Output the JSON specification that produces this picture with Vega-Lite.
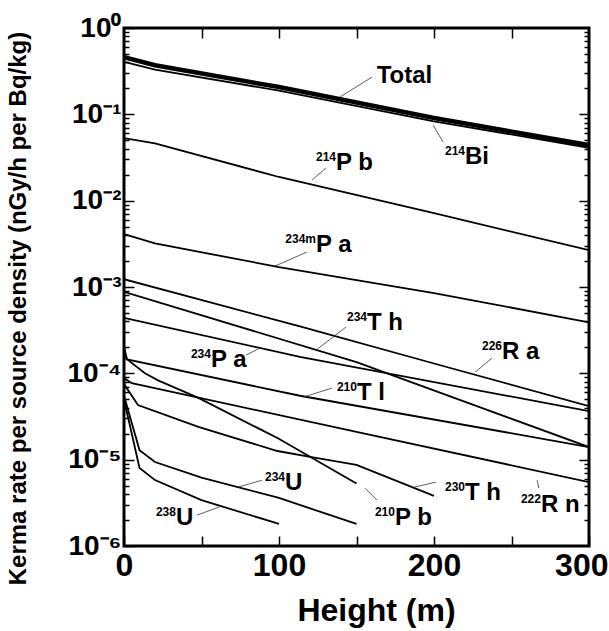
{
  "$schema": "https://vega.github.io/schema/vega-lite/v6.json",
  "autosize": {"type": "none"},
  "width": 465,
  "height": 518,
  "padding": {"left": 124, "top": 28, "right": 20, "bottom": 85},
  "background": "white",
  "config": {
    "view": {"stroke": "black", "strokeWidth": 3},
    "font": "Liberation Sans",
    "axis": {"grid": false, "domain": false, "tickColor": "black", "tickWidth": 1.5, "labelColor": "black", "titleColor": "black", "labelFont": "Liberation Sans", "titleFont": "Liberation Sans", "labelFontWeight": "bold", "titleFontWeight": "bold"}
  },
  "datasets": {
    "curves": [
      {"series": "Total", "h": 0, "v": 0.46}, {"series": "Total", "h": 20, "v": 0.37}, {"series": "Total", "h": 100, "v": 0.207}, {"series": "Total", "h": 200, "v": 0.0906}, {"series": "Total", "h": 300, "v": 0.044},
      {"series": "214Bi", "h": 0, "v": 0.405}, {"series": "214Bi", "h": 20, "v": 0.33}, {"series": "214Bi", "h": 100, "v": 0.188}, {"series": "214Bi", "h": 200, "v": 0.083}, {"series": "214Bi", "h": 300, "v": 0.041},
      {"series": "214Pb", "h": 0, "v": 0.053}, {"series": "214Pb", "h": 20, "v": 0.046}, {"series": "214Pb", "h": 100, "v": 0.0188}, {"series": "214Pb", "h": 200, "v": 0.00715}, {"series": "214Pb", "h": 300, "v": 0.00267},
      {"series": "234mPa", "h": 0, "v": 0.0041}, {"series": "234mPa", "h": 20, "v": 0.0032}, {"series": "234mPa", "h": 100, "v": 0.0017}, {"series": "234mPa", "h": 200, "v": 0.00085}, {"series": "234mPa", "h": 300, "v": 0.00039},
      {"series": "226Ra", "h": 0, "v": 0.00123}, {"series": "226Ra", "h": 113.5, "v": 0.00035}, {"series": "226Ra", "h": 200, "v": 0.00013}, {"series": "226Ra", "h": 300, "v": 0.0000417},
      {"series": "234Th", "h": 0, "v": 0.00088}, {"series": "234Th", "h": 150, "v": 0.000135}, {"series": "234Th", "h": 300, "v": 0.000014},
      {"series": "234Pa", "h": 0, "v": 0.00044}, {"series": "234Pa", "h": 113.5, "v": 0.000155}, {"series": "234Pa", "h": 300, "v": 0.0000365},
      {"series": "210Tl", "h": 0, "v": 0.0002}, {"series": "210Tl", "h": 2, "v": 0.000145}, {"series": "210Tl", "h": 113.5, "v": 0.000055}, {"series": "210Tl", "h": 300, "v": 0.000014},
      {"series": "222Rn", "h": 0, "v": 0.000088}, {"series": "222Rn", "h": 5, "v": 0.000077}, {"series": "222Rn", "h": 150, "v": 0.000021}, {"series": "222Rn", "h": 300, "v": 0.0000055},
      {"series": "210Pb", "h": 0, "v": 0.0002}, {"series": "210Pb", "h": 1, "v": 0.00015}, {"series": "210Pb", "h": 13.5, "v": 0.0001}, {"series": "210Pb", "h": 22, "v": 0.000083}, {"series": "210Pb", "h": 48, "v": 0.000052}, {"series": "210Pb", "h": 99, "v": 0.0000178}, {"series": "210Pb", "h": 150, "v": 0.0000053},
      {"series": "230Th", "h": 0, "v": 0.000075}, {"series": "230Th", "h": 9, "v": 0.000043}, {"series": "230Th", "h": 48, "v": 0.000024}, {"series": "230Th", "h": 99, "v": 0.0000126}, {"series": "230Th", "h": 121, "v": 0.0000107}, {"series": "230Th", "h": 150, "v": 0.0000087}, {"series": "230Th", "h": 200, "v": 0.0000038},
      {"series": "234U", "h": 0, "v": 0.000055}, {"series": "234U", "h": 10, "v": 0.0000129}, {"series": "234U", "h": 20, "v": 0.0000094}, {"series": "234U", "h": 50, "v": 0.0000062}, {"series": "234U", "h": 100, "v": 0.0000036}, {"series": "234U", "h": 150, "v": 0.0000018},
      {"series": "238U", "h": 0, "v": 0.00005}, {"series": "238U", "h": 10, "v": 0.000008}, {"series": "238U", "h": 20, "v": 0.0000058}, {"series": "238U", "h": 50, "v": 0.0000034}, {"series": "238U", "h": 100, "v": 0.0000018}
    ],
    "labels": [
      {"mass": "", "el": "Total", "h": 163, "v": 0.278},
      {"mass": "214", "el": "Bi", "h": 220, "v": 0.032},
      {"mass": "214", "el": "P b", "h": 136.8, "v": 0.0273},
      {"mass": "234m", "el": "P a", "h": 123.9, "v": 0.00306},
      {"mass": "234", "el": "T h", "h": 156.8, "v": 0.000382},
      {"mass": "234", "el": "P a", "h": 56.1, "v": 0.000142},
      {"mass": "226", "el": "R a", "h": 243.9, "v": 0.000176},
      {"mass": "210", "el": "T l", "h": 150.3, "v": 0.000059},
      {"mass": "234", "el": "U", "h": 103.9, "v": 0.00000535},
      {"mass": "238", "el": "U", "h": 33.5, "v": 0.0000021},
      {"mass": "210", "el": "P b", "h": 174.8, "v": 0.0000021},
      {"mass": "230", "el": "T h", "h": 220, "v": 0.0000041},
      {"mass": "222", "el": "R n", "h": 269, "v": 0.00000297}
    ],
    "pointers": [
      {"h": 160, "v": 0.27, "h2": 139.4, "v2": 0.159},
      {"h": 205.8, "v": 0.0478, "h2": 199.4, "v2": 0.0752},
      {"h": 130.3, "v": 0.0239, "h2": 121.3, "v2": 0.01733},
      {"h": 118, "v": 0.00254, "h2": 97.4, "v2": 0.001746},
      {"h": 143.2, "v": 0.000343, "h2": 123.9, "v2": 0.000186},
      {"h": 78.7, "v": 0.000163, "h2": 87.7, "v2": 0.000196},
      {"h": 237.4, "v": 0.00015, "h2": 226.5, "v2": 0.000103},
      {"h": 134.2, "v": 0.0000674, "h2": 115.5, "v2": 0.000053},
      {"h": 89, "v": 0.00000578, "h2": 73.5, "v2": 0.0000048},
      {"h": 47.1, "v": 0.00000228, "h2": 61.3, "v2": 0.00000282},
      {"h": 163.2, "v": 0.0000034, "h2": 155.5, "v2": 0.00000468},
      {"h": 201.3, "v": 0.00000549, "h2": 187.1, "v2": 0.0000048},
      {"h": 266.5, "v": 0.00000578, "h2": 267.7, "v2": 0.00000468}
    ]
  },
  "layer": [
    {
      "data": {"name": "curves"},
      "transform": [{"filter": "datum.series != 'Total'"}],
      "mark": {"type": "line", "color": "black", "strokeWidth": 1.8, "clip": true},
      "encoding": {
        "x": {"field": "h", "type": "quantitative", "scale": {"domain": [0, 300], "nice": false},
          "axis": {"orient": "bottom", "values": [0, 50, 100, 150, 200, 250, 300], "labelExpr": "datum.value % 100 == 0 ? datum.label : ''", "tickSize": -10, "labelFontSize": 32, "labelPadding": 14, "labelFlush": false,
            "labelAlign": {"condition": {"test": "datum.value == 300", "value": "right"}, "value": "center"},
            "labelOffset": {"condition": {"test": "datum.value == 300", "value": 19}, "value": 0},
            "title": "Height (m)", "titleFontSize": 32, "titleX": 252, "titleY": 64, "titleBaseline": "middle"}},
        "y": {"field": "v", "type": "quantitative", "scale": {"type": "log", "domain": [0.000001, 1], "nice": false},
          "axis": {"orient": "left",
            "values": [0.000001, 0.000002, 0.000003, 0.000004, 0.000005, 0.000006, 0.000007, 0.000008, 0.000009, 0.00001, 0.00002, 0.00003, 0.00004, 0.00005, 0.00006, 0.00007, 0.00008, 0.00009, 0.0001, 0.0002, 0.0003, 0.0004, 0.0005, 0.0006, 0.0007, 0.0008, 0.0009, 0.001, 0.002, 0.003, 0.004, 0.005, 0.006, 0.007, 0.008, 0.009, 0.01, 0.02, 0.03, 0.04, 0.05, 0.06, 0.07, 0.08, 0.09, 0.1, 0.2, 0.3, 0.4, 0.5, 0.6, 0.7, 0.8, 0.9, 1],
            "labelExpr": "abs(log(datum.value)/LN10 - round(log(datum.value)/LN10)) < 0.001 ? (round(log(datum.value)/LN10) == 0 ? '10⁰' : round(log(datum.value)/LN10) == -1 ? '10⁻¹' : round(log(datum.value)/LN10) == -2 ? '10⁻²' : round(log(datum.value)/LN10) == -3 ? '10⁻³' : round(log(datum.value)/LN10) == -4 ? '10⁻⁴' : round(log(datum.value)/LN10) == -5 ? '10⁻⁵' : '10⁻⁶') : ''",
            "tickSize": {"condition": {"test": "abs(log(datum.value)/LN10 - round(log(datum.value)/LN10)) < 0.001", "value": -10}, "value": -5},
            "labelFontSize": 28, "labelPadding": 13, "labelOverlap": false, "labelFlush": false,
            "title": "Kerma rate per source density (nGy/h per Bq/kg)", "titleFontSize": 24, "titleX": -106, "titleY": 280, "titleAngle": -90, "titleAlign": "center", "titleBaseline": "middle"}},
        "detail": {"field": "series"}
      }
    },
    {
      "data": {"name": "curves"},
      "transform": [{"filter": "datum.series == 'Total'"}],
      "mark": {"type": "line", "color": "black", "strokeWidth": 4.5, "clip": true},
      "encoding": {
        "x": {"field": "h", "type": "quantitative", "axis": null},
        "y": {"field": "v", "type": "quantitative", "axis": null}
      }
    },
    {
      "data": {"name": "pointers"},
      "mark": {"type": "rule", "color": "#333", "strokeWidth": 0.8},
      "encoding": {
        "x": {"field": "h", "type": "quantitative", "axis": null},
        "y": {"field": "v", "type": "quantitative", "axis": null},
        "x2": {"field": "h2"},
        "y2": {"field": "v2"}
      }
    },
    {
      "data": {"name": "labels"},
      "mark": {"type": "text", "align": "right", "baseline": "top", "dy": -11, "fontSize": 12, "fontWeight": "bold", "font": "Liberation Sans", "color": "black"},
      "encoding": {
        "x": {"field": "h", "type": "quantitative", "axis": null},
        "y": {"field": "v", "type": "quantitative", "axis": null},
        "text": {"field": "mass"}
      }
    },
    {
      "data": {"name": "labels"},
      "mark": {"type": "text", "align": "left", "baseline": "middle", "fontSize": 24, "fontWeight": "bold", "font": "Liberation Sans", "color": "black"},
      "encoding": {
        "x": {"field": "h", "type": "quantitative",
          "axis": {"orient": "top", "values": [50, 100, 150, 200, 250], "labels": false, "tickSize": -10, "title": null}},
        "y": {"field": "v", "type": "quantitative",
          "axis": {"orient": "right", "labels": false, "title": null,
            "values": [0.000002, 0.000003, 0.000004, 0.000005, 0.000006, 0.000007, 0.000008, 0.000009, 0.00001, 0.00002, 0.00003, 0.00004, 0.00005, 0.00006, 0.00007, 0.00008, 0.00009, 0.0001, 0.0002, 0.0003, 0.0004, 0.0005, 0.0006, 0.0007, 0.0008, 0.0009, 0.001, 0.002, 0.003, 0.004, 0.005, 0.006, 0.007, 0.008, 0.009, 0.01, 0.02, 0.03, 0.04, 0.05, 0.06, 0.07, 0.08, 0.09, 0.1, 0.2, 0.3, 0.4, 0.5, 0.6, 0.7, 0.8, 0.9],
            "tickSize": {"condition": {"test": "abs(log(datum.value)/LN10 - round(log(datum.value)/LN10)) < 0.001", "value": -10}, "value": -5}}},
        "text": {"field": "el"}
      }
    }
  ],
  "resolve": {"axis": {"x": "independent", "y": "independent"}}
}
